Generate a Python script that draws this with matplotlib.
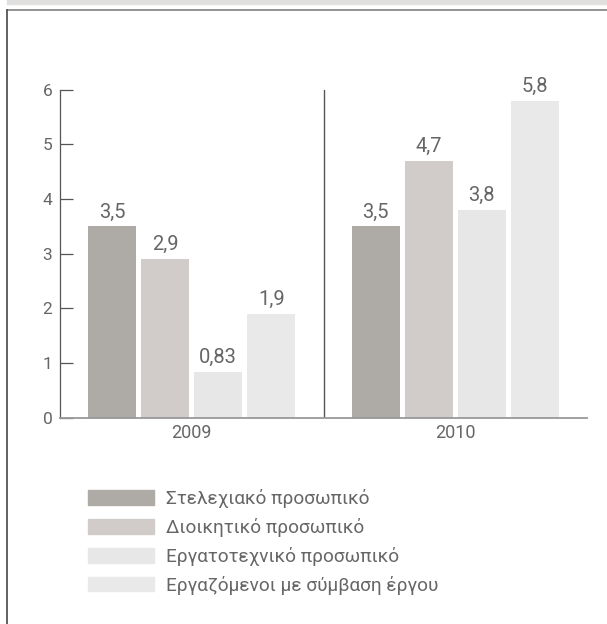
import matplotlib
import matplotlib.pyplot as plt
from matplotlib.patches import Patch, Rectangle
from matplotlib.lines import Line2D

matplotlib.use("Agg")

plt.rcParams["font.family"] = ["Roboto", "DejaVu Sans"]
plt.rcParams["font.weight"] = "normal"

years = ["2009", "2010"]
categories = [
    "Στελεχιακό προσωπικό",
    "Διοικητικό προσωπικό",
    "Εργατοτεχνικό προσωπικό",
    "Εργαζόμενοι με σύμβαση έργου",
]
stelexiako = [3.5, 3.5]
dioikitiko = [2.9, 4.7]
ergatotechniko = [0.83, 3.8]
symvasi = [1.9, 5.8]
series = [stelexiako, dioikitiko, ergatotechniko, symvasi]
colors = ["#aeaaa5", "#d1ccc9", "#e8e7e7", "#eae9e9"]

W, H = 607, 624
fig = plt.figure(figsize=(W / 100, H / 100), dpi=100)

# frame decorations: top band, top rule, left rule
fig.patches.append(Rectangle((7 / W, 1 - 4 / H), 1, 4 / H, transform=fig.transFigure,
                             color="#e2e0de", zorder=0))
fig.lines.append(Line2D([7 / W, 1], [1 - 9.5 / H] * 2, transform=fig.transFigure,
                        color="#8a8a8a", lw=1.3))
fig.lines.append(Line2D([7 / W] * 2, [0, 1 - 9.5 / H], transform=fig.transFigure,
                        color="#555555", lw=1.3))

ax = fig.add_axes([60 / W, 1 - 417.5 / H, 527 / W, (417.5 - 89.7) / H])

group_x = [0.5, 1.5]
step = 53 / 263.5
width = 48 / 263.5
text_color = "#666666"

for i, (vals, col) in enumerate(zip(series, colors)):
    xs = [g + (i - 1.5) * step for g in group_x]
    bars = ax.bar(xs, vals, width=width, color=col, label=categories[i], zorder=2)
    ax.bar_label(bars, labels=[f"{v:g}".replace(".", ",") for v in vals],
                 padding=3.5, fontsize=14.5, color=text_color, clip_on=False)

ax.axvline(1, ymin=0, ymax=1, color="#555555", lw=1, zorder=1)

ax.set_xlim(0, 2)
ax.set_ylim(0, 6)
ax.set_yticks(range(0, 7))
ax.set_xticks(group_x)
ax.set_xticklabels(years)
ax.tick_params(axis="y", direction="in", length=9.4, width=0.9, color="#555555",
               labelsize=12.5, labelcolor=text_color, pad=5.5)
ax.tick_params(axis="x", length=0, labelsize=13, labelcolor=text_color, pad=5)

for side in ["top", "right"]:
    ax.spines[side].set_visible(False)
ax.spines["left"].set_color("#555555")
ax.spines["left"].set_linewidth(0.9)
ax.spines["bottom"].set_color("#999999")
ax.spines["bottom"].set_linewidth(1.3)

handles = [Patch(color=c) for c in colors]
fig.legend(handles, categories, loc="upper left",
           bbox_to_anchor=(88 / W, 1 - 489 / H), frameon=False,
           fontsize=13.7, labelcolor=text_color,
           handlelength=3.45, handleheight=0.82, handletextpad=0.65,
           labelspacing=0.52, borderpad=0, borderaxespad=0)

fig.savefig("out.png", dpi=100)
